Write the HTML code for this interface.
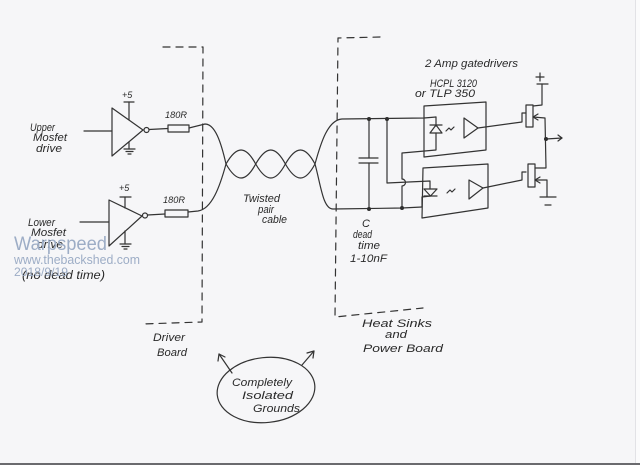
<!DOCTYPE html>
<html><head><meta charset="utf-8"><style>
html,body{margin:0;padding:0;background:#f6f6f8;}
svg{display:block;}
text{font-family:"Liberation Sans",sans-serif;font-style:italic;fill:#2a2a2a;font-size:11px;}
.w{font-style:normal;fill:#9dadc6;}
</style></head><body>
<svg width="640" height="465" viewBox="0 0 640 465" xmlns="http://www.w3.org/2000/svg">
<rect x="0" y="0" width="640" height="465" fill="#f6f6f8"/>
<rect x="636" y="0" width="4" height="465" fill="#fbfbfc"/>
<line x1="635.5" y1="0" x2="635.5" y2="465" stroke="#e2e2e6" stroke-width="1"/>
<rect x="0" y="463" width="640" height="2" fill="#6a6a6e"/>

<g fill="none" stroke="#333" stroke-width="1.2" stroke-linecap="round" stroke-linejoin="round">
<!-- dashed boxes -->
<path d="M163,47 L203,47 L202,322 L142,324" stroke-dasharray="7 6"/>
<path d="M380,37 L338,38 L335,317 L423,308" stroke-dasharray="7 6"/>

<!-- upper inverter -->
<line x1="84" y1="131" x2="112" y2="131"/>
<polygon points="112,108 112,156 143,130"/>
<circle cx="146.5" cy="130" r="2.5"/>
<line x1="149" y1="129.5" x2="168" y2="128.5"/>
<rect x="168" y="125" width="21" height="7"/>
<line x1="129" y1="102" x2="129" y2="120"/>
<line x1="124" y1="102" x2="134" y2="102"/>
<line x1="129" y1="142" x2="129" y2="149"/>
<line x1="124" y1="149" x2="135" y2="149"/>
<line x1="126" y1="151.5" x2="133" y2="151.5"/>
<line x1="128" y1="154" x2="131" y2="154"/>

<!-- lower inverter -->
<line x1="80" y1="222" x2="109" y2="222"/>
<polygon points="109,200 109,246 142,216"/>
<circle cx="145" cy="215.5" r="2.5"/>
<line x1="147.5" y1="215" x2="165" y2="214"/>
<rect x="165" y="210" width="23" height="7"/>
<line x1="125" y1="197" x2="125" y2="208"/>
<line x1="120" y1="197" x2="131" y2="197"/>
<line x1="125" y1="231" x2="125" y2="244"/>
<line x1="120" y1="244" x2="131" y2="244"/>
<line x1="122" y1="246.5" x2="129" y2="246.5"/>
<line x1="124" y1="249" x2="127" y2="249"/>

<!-- twisted pair -->
<path d="M189,128 L205,124 C215,124 221,142 226,164 C236.7,182.7 245.6,182.7 255.7,164 C266.4,145.3 275.3,145.3 285.4,164 C296.1,182.7 305,182.7 315,164 C321,142 328,120 342,119 L424,118 L436,117"/>
<path d="M188,212 L198,211 C212,209 220,186 226,164 C236.7,145.3 245.6,145.3 255.7,164 C266.4,182.7 275.3,182.7 285.4,164 C296.1,145.3 305,145.3 315,164 C321,186 323,209 333,209 L402,208 L422,207"/>

<!-- capacitor -->
<line x1="369" y1="119" x2="369" y2="158"/>
<line x1="359" y1="158" x2="378" y2="158"/>
<line x1="359" y1="163" x2="378" y2="163"/>
<line x1="369" y1="163" x2="369" y2="209"/>

<!-- cross wiring -->
<path d="M387,119 L387,183 L430,181 L430,189"/>
<path d="M436,117 L436,125"/>
<path d="M436,133 L436,150 L402,153 L402,179 A3,3 0 0 1 402,186 L402,208"/>

<!-- upper opto -->
<polygon points="424,106 486,102 486,150 424,157"/>
<line x1="430" y1="125" x2="442" y2="125"/>
<polygon points="436,125 430,133 442,133"/>
<path d="M446,131 l3,-3 l2,2 l3,-3"/>
<polygon points="464,118 464,138 478,128"/>
<path d="M478,128 L522,122 L522,113 L526,113"/>

<!-- lower opto -->
<polygon points="423,168 488,164 488,208 422,218"/>
<polygon points="424,189 437,189 430.5,196"/>
<line x1="424" y1="196" x2="437" y2="196"/>
<path d="M430.5,196 L422,197 L422,207"/>
<path d="M447,193 l3,-3 l2,2 l3,-3"/>
<polygon points="469,180 469,199 483,188"/>
<path d="M483,188 L522,180 L522,172 L526,172"/>

<!-- upper mosfet -->
<rect x="526" y="105" width="7" height="22"/>
<path d="M533,106 L542,105 L542,84"/>
<line x1="537" y1="84" x2="548" y2="84"/>
<line x1="540" y1="73" x2="540" y2="81"/>
<line x1="536" y1="77" x2="544" y2="77"/>
<path d="M533,117 L545,118 L546,168 L535,168"/>
<path d="M538,114 L533,117 L538,120"/>
<line x1="546" y1="139" x2="562" y2="138"/>
<path d="M558,135 L562,138 L558,141"/>
<!-- lower mosfet -->
<rect x="528" y="164" width="7" height="23"/>
<path d="M535,180 L547,180 L547,197"/>
<path d="M540,177 L535,180 L540,183"/>
<line x1="540" y1="197" x2="556" y2="197"/>
<line x1="545" y1="205" x2="551" y2="205"/>

<!-- ellipse and arrows -->
<ellipse cx="266" cy="390" rx="49" ry="32.5" transform="rotate(-6 266 390)"/>
<line x1="232" y1="373" x2="219" y2="354"/>
<path d="M218,361 L219,354 L225,357"/>
<line x1="302" y1="365" x2="314" y2="351"/>
<path d="M307,353 L314,351 L313,358"/>
</g>

<g fill="#2e2e2e">
<circle cx="369" cy="119" r="2"/>
<circle cx="387" cy="119" r="2"/>
<circle cx="369" cy="209" r="2"/>
<circle cx="402" cy="208" r="2"/>
<circle cx="546" cy="139" r="2"/>
</g>

<!-- labels -->
<text x="30" y="131" textLength="25" lengthAdjust="spacingAndGlyphs">Upper</text>
<text x="33" y="141" textLength="34" lengthAdjust="spacingAndGlyphs">Mosfet</text>
<text x="36" y="152" textLength="26" lengthAdjust="spacingAndGlyphs">drive</text>
<text x="122" y="98" style="font-size:9px">+5</text>
<text x="165" y="118" textLength="22" lengthAdjust="spacingAndGlyphs" style="font-size:9.5px">180R</text>
<text x="119" y="191" style="font-size:9px">+5</text>
<text x="163" y="203" textLength="22" lengthAdjust="spacingAndGlyphs" style="font-size:9.5px">180R</text>
<text x="28" y="226" textLength="27" lengthAdjust="spacingAndGlyphs">Lower</text>
<text x="31" y="236" textLength="35" lengthAdjust="spacingAndGlyphs">Mosfet</text>
<text x="37" y="248" textLength="26" lengthAdjust="spacingAndGlyphs">drive</text>
<text x="22" y="279" textLength="83" lengthAdjust="spacingAndGlyphs" style="font-size:11.5px">(no dead time)</text>

<text class="w" x="14" y="250" textLength="93" lengthAdjust="spacingAndGlyphs" style="font-size:19px">Warpspeed</text>
<text class="w" x="14" y="264" textLength="126" lengthAdjust="spacingAndGlyphs" style="font-size:12.5px">www.thebackshed.com</text>
<text class="w" x="14" y="276" textLength="54" lengthAdjust="spacingAndGlyphs" style="font-size:12px">2018/9/19</text>

<text x="243" y="202" textLength="37" lengthAdjust="spacingAndGlyphs">Twisted</text>
<text x="258" y="213" textLength="16" lengthAdjust="spacingAndGlyphs">pair</text>
<text x="262" y="223" textLength="25" lengthAdjust="spacingAndGlyphs">cable</text>

<text x="425" y="67" textLength="93" lengthAdjust="spacingAndGlyphs">2 Amp gatedrivers</text>
<text x="430" y="87" textLength="47" lengthAdjust="spacingAndGlyphs">HCPL 3120</text>
<text x="415" y="97" textLength="60" lengthAdjust="spacingAndGlyphs">or TLP 350</text>

<text x="362" y="227">C</text>
<text x="353" y="238" textLength="19" lengthAdjust="spacingAndGlyphs">dead</text>
<text x="358" y="249" textLength="22" lengthAdjust="spacingAndGlyphs">time</text>
<text x="350" y="262" textLength="37" lengthAdjust="spacingAndGlyphs">1-10nF</text>

<text x="153" y="341" textLength="32" lengthAdjust="spacingAndGlyphs">Driver</text>
<text x="157" y="356" textLength="30" lengthAdjust="spacingAndGlyphs">Board</text>

<text x="362" y="327" textLength="70" lengthAdjust="spacingAndGlyphs">Heat Sinks</text>
<text x="385" y="338" textLength="22" lengthAdjust="spacingAndGlyphs">and</text>
<text x="363" y="352" textLength="80" lengthAdjust="spacingAndGlyphs">Power Board</text>

<text x="232" y="386" textLength="60" lengthAdjust="spacingAndGlyphs">Completely</text>
<text x="242" y="399" textLength="51" lengthAdjust="spacingAndGlyphs">Isolated</text>
<text x="253" y="412" textLength="47" lengthAdjust="spacingAndGlyphs">Grounds</text>
</svg>
</body></html>
